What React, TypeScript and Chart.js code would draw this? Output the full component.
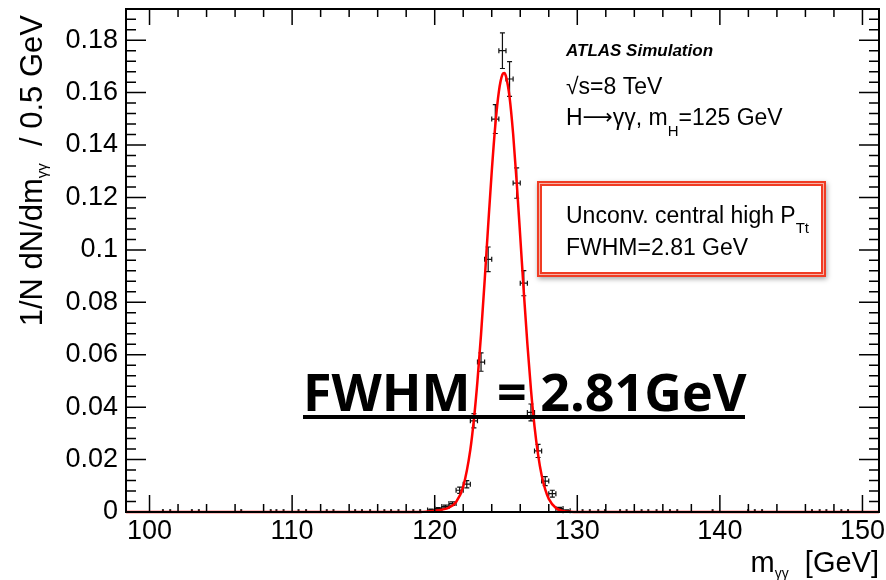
import React, { useEffect, useRef } from "react";
import { Chart, registerables } from "chart.js";

Chart.register(...registerables);

// ---------- data ----------
const xMin = 98.35;
const xMax = 151.16;
const yMin = 0;
const yMax = 0.1919;

const xTickValues = [100, 110, 120, 130, 140, 150];
const xTickLabels = ["100", "110", "120", "130", "140", "150"];
const yTickValues = [0, 0.02, 0.04, 0.06, 0.08, 0.1, 0.12, 0.14, 0.16, 0.18];
const yTickLabels = ["0", "0.02", "0.04", "0.06", "0.08", "0.1", "0.12", "0.14", "0.16", "0.18"];
const xMinorStep = 2;
const yMinorStep = 0.004;

// simulated histogram (bin centre, normalised content, stat. error)
const binHalfWidth = 0.25;
const simMass = [119.75, 120.25, 120.75, 121.25, 121.75, 122.25, 122.75, 123.25, 123.75, 124.25, 124.75, 125.25, 125.75, 126.25, 126.75, 127.25, 127.75, 128.25, 128.75, 129.25];
const simValue = [0.0008, 0.0013, 0.0021, 0.0032, 0.0083, 0.0106, 0.0348, 0.0572, 0.0964, 0.1499, 0.176, 0.1652, 0.1255, 0.0873, 0.038, 0.0233, 0.0118, 0.007, 0.0013, 0.0005];
const simError = [0.0003, 0.0004, 0.0005, 0.0007, 0.0012, 0.0014, 0.0027, 0.0035, 0.0047, 0.0055, 0.0068, 0.0066, 0.0058, 0.0048, 0.0032, 0.0025, 0.0017, 0.0013, 0.0005, 0.0003];

// isolated near-empty bins in the tails
const tailMass = [100.94, 101.45, 102.97, 103.46, 106.43, 108.5, 108.9, 109.4, 110.45, 110.98, 112.43, 112.9, 114.42, 114.9, 115.47, 116.47, 116.94, 117.46, 118.5, 118.98, 130.37, 130.88, 131.47, 131.94, 133.0, 133.46, 134.51, 134.98, 135.56, 136.5, 137.01, 139.49, 141.98, 142.45, 142.96, 146.46, 147.0, 147.47, 148.52, 148.99];
const tailValue = [0.0007, 0.0007, 0.0007, 0.0007, 0.0007, 0.0007, 0.0007, 0.0007, 0.0007, 0.0007, 0.0007, 0.0007, 0.0007, 0.0007, 0.0007, 0.0007, 0.0007, 0.0007, 0.0007, 0.0007, 0.0007, 0.0007, 0.0007, 0.0007, 0.0007, 0.0007, 0.0007, 0.0007, 0.0007, 0.0007, 0.0007, 0.0007, 0.0007, 0.0007, 0.0007, 0.0007, 0.0007, 0.0007, 0.0007, 0.0007];

// fitted line shape
const fitMass = [98.35, 119.0, 119.5, 120.0, 120.5, 121.0, 121.5, 122.0, 122.5, 122.75, 123.0, 123.25, 123.5, 123.75, 124.0, 124.25, 124.5, 124.75, 124.88, 125.0, 125.25, 125.5, 125.75, 126.0, 126.25, 126.5, 126.75, 127.0, 127.25, 127.5, 127.75, 128.0, 128.5, 129.0, 129.5, 130.0, 151.16];
const fitValue = [0, 0, 0.0002, 0.0005, 0.0009, 0.0017, 0.0038, 0.0097, 0.0238, 0.0353, 0.05, 0.0678, 0.088, 0.1093, 0.1298, 0.1475, 0.1604, 0.1669, 0.1675, 0.1662, 0.1583, 0.1443, 0.1258, 0.105, 0.0838, 0.0641, 0.0468, 0.0327, 0.0219, 0.014, 0.0086, 0.005, 0.0015, 0.0004, 0.0001, 0, 0];

const FONT = '"Liberation Sans", Arial, Helvetica, sans-serif';
const BIG_FONT = '"Open Sans", "Noto Sans", sans-serif';

type Seg = { t: string; font: string; dy?: number };

function segWidth(ctx: CanvasRenderingContext2D, segs: Seg[]) {
  let w = 0;
  for (const s of segs) {
    ctx.font = s.font;
    w += ctx.measureText(s.t).width;
  }
  return w;
}

function drawSegs(ctx: CanvasRenderingContext2D, x: number, y: number, segs: Seg[], align: "left" | "right" = "left") {
  let cx = align === "right" ? x - segWidth(ctx, segs) : x;
  ctx.textAlign = "left";
  ctx.textBaseline = "alphabetic";
  for (const s of segs) {
    ctx.font = s.font;
    ctx.fillText(s.t, cx, y + (s.dy || 0));
    cx += ctx.measureText(s.t).width;
  }
}

const errorBarPlugin = {
  id: "errorBars",
  beforeDatasetsDraw(chart: any) {
    const { ctx, scales } = chart;
    const xs = scales.x;
    const ys = scales.y;
    ctx.save();
    ctx.strokeStyle = "#111";
    ctx.lineWidth = 1.2;
    const cap = 2.5;
    for (let i = 0; i < simMass.length; i++) {
      const px = xs.getPixelForValue(simMass[i]);
      const py = ys.getPixelForValue(simValue[i]);
      const xl = xs.getPixelForValue(simMass[i] - binHalfWidth);
      const xr = xs.getPixelForValue(simMass[i] + binHalfWidth);
      const yt = ys.getPixelForValue(simValue[i] + simError[i]);
      const yb = ys.getPixelForValue(Math.max(0, simValue[i] - simError[i]));
      ctx.beginPath();
      ctx.moveTo(xl, py);
      ctx.lineTo(xr, py);
      ctx.moveTo(xl, py - cap);
      ctx.lineTo(xl, py + cap);
      ctx.moveTo(xr, py - cap);
      ctx.lineTo(xr, py + cap);
      ctx.moveTo(px, yt);
      ctx.lineTo(px, yb);
      ctx.moveTo(px - cap, yt);
      ctx.lineTo(px + cap, yt);
      ctx.moveTo(px - cap, yb);
      ctx.lineTo(px + cap, yb);
      ctx.stroke();
    }
    ctx.fillStyle = "#111";
    for (let i = 0; i < tailMass.length; i++) {
      const px = xs.getPixelForValue(tailMass[i]);
      const py = ys.getPixelForValue(tailValue[i]);
      ctx.fillRect(px - 1, py - 1, 2, 2);
    }
    ctx.restore();
  },
};

const framePlugin = {
  id: "rootFrame",
  afterDatasetsDraw(chart: any) {
    const { ctx, chartArea: a, scales } = chart;
    const xs = scales.x;
    const ys = scales.y;
    ctx.save();
    ctx.strokeStyle = "#000";
    ctx.lineWidth = 1.5;
    ctx.beginPath();
    for (let v = 100; v <= xMax; v += xMinorStep) {
      const px = xs.getPixelForValue(v);
      const major = xTickValues.includes(v);
      const lb = major ? 17 : 8;
      const lt = major ? 16 : 8;
      ctx.moveTo(px, a.bottom);
      ctx.lineTo(px, a.bottom - lb);
      ctx.moveTo(px, a.top);
      ctx.lineTo(px, a.top + lt);
    }
    for (let k = 0; k * yMinorStep <= yMax; k++) {
      const v = k * yMinorStep;
      const py = ys.getPixelForValue(v);
      const major = k % 5 === 0;
      const l = major ? 20 : 10;
      ctx.moveTo(a.left, py);
      ctx.lineTo(a.left + l, py);
      ctx.moveTo(a.right, py);
      ctx.lineTo(a.right - l, py);
    }
    ctx.stroke();
    ctx.lineWidth = 2;
    ctx.strokeRect(a.left, a.top, a.right - a.left, a.bottom - a.top);
    ctx.restore();
  },
  afterDraw(chart: any) {
    const { ctx, chartArea: a } = chart;
    ctx.save();
    ctx.fillStyle = "#000";

    // y axis title
    ctx.save();
    ctx.translate(42, 15);
    ctx.rotate(-Math.PI / 2);
    drawSegs(
      ctx,
      0,
      0,
      [
        { t: "1/N dN/dm", font: `31px ${FONT}` },
        { t: "\u03b3\u03b3", font: `15px ${FONT}`, dy: 5 },
        { t: "  / 0.5 GeV", font: `31px ${FONT}` },
      ],
      "right"
    );
    ctx.restore();

    // x axis title
    drawSegs(
      ctx,
      a.right,
      572,
      [
        { t: "m", font: `29px ${FONT}` },
        { t: "\u03b3\u03b3", font: `14px ${FONT}`, dy: 6 },
        { t: "  [GeV]", font: `29px ${FONT}` },
      ],
      "right"
    );

    // ATLAS labels
    drawSegs(ctx, 566, 56, [{ t: "ATLAS Simulation", font: `italic bold 17px ${FONT}` }]);
    drawSegs(ctx, 566, 94, [{ t: "\u221as=8 TeV", font: `23px ${FONT}` }]);
    drawSegs(ctx, 566, 125, [
      { t: "H", font: `23px ${FONT}` },
      { t: "\u27f6", font: `21px "DejaVu Sans", ${FONT}`, dy: -1 },
      { t: "\u03b3\u03b3, m", font: `23px ${FONT}` },
      { t: "H", font: `15px ${FONT}`, dy: 11 },
      { t: "=125 GeV", font: `23px ${FONT}` },
    ]);

    // red box
    const bx = 537, by = 181, bw = 289, bh = 96;
    ctx.save();
    ctx.shadowColor = "rgba(0,0,0,0.35)";
    ctx.shadowBlur = 5;
    ctx.shadowOffsetX = 1;
    ctx.shadowOffsetY = 2;
    ctx.fillStyle = "#fff";
    ctx.fillRect(bx, by, bw, bh);
    ctx.restore();
    ctx.strokeStyle = "#f03c24";
    ctx.lineWidth = 2;
    ctx.strokeRect(bx + 1, by + 1, bw - 2, bh - 2);
    ctx.strokeStyle = "#f7b3a6";
    ctx.lineWidth = 1;
    ctx.strokeRect(bx + 2.5, by + 2.5, bw - 5, bh - 5);
    ctx.strokeStyle = "#f03c24";
    ctx.lineWidth = 2;
    ctx.strokeRect(bx + 4, by + 4, bw - 8, bh - 8);

    ctx.fillStyle = "#000";
    drawSegs(ctx, 566, 223, [
      { t: "Unconv. central high P", font: `23px ${FONT}` },
      { t: "Tt", font: `15px ${FONT}`, dy: 10 },
    ]);
    drawSegs(ctx, 566, 255, [{ t: "FWHM=2.81 GeV", font: `23px ${FONT}` }]);

    // big FWHM statement
    drawSegs(ctx, 303, 411, [{ t: "FWHM", font: `bold 52px ${BIG_FONT}` }]);
    drawSegs(ctx, 497, 411, [{ t: "= 2.81GeV", font: `bold 52px ${BIG_FONT}` }]);
    ctx.fillRect(303, 415, 442, 4);
    ctx.restore();
  },
};

export default function App() {
  const ref = useRef<HTMLCanvasElement | null>(null);
  useEffect(() => {
    document.body.style.margin = "0";
    const canvas = ref.current;
    if (!canvas) return;
    const chart = new Chart(canvas, {
      type: "scatter",
      data: {
        datasets: [
          {
            label: "fit",
            data: fitMass.map((x, i) => ({ x, y: fitValue[i] })),
            showLine: true,
            borderColor: "#ff0000",
            borderWidth: 2.5,
            pointRadius: 0,
            cubicInterpolationMode: "monotone",
            clip: 4,
          } as any,
          {
            label: "simulation",
            data: simMass.map((x, i) => ({ x, y: simValue[i] })),
            showLine: false,
            pointRadius: 0,
          },
        ],
      },
      options: {
        animation: false,
        responsive: false,
        devicePixelRatio: 1,
        layout: { padding: { top: 9, right: 7, left: 0, bottom: 0 } },
        plugins: { legend: { display: false }, tooltip: { enabled: false } },
        events: [],
        scales: {
          x: {
            type: "linear",
            min: xMin,
            max: xMax,
            grid: { display: false, drawTicks: false },
            border: { display: false },
            afterBuildTicks: (scale: any) => {
              scale.ticks = xTickValues.map((v) => ({ value: v }));
            },
            afterFit: (scale: any) => {
              scale.height = 68;
              scale.paddingLeft = 0;
              scale.paddingRight = 0;
              scale.paddingTop = 0;
              scale.paddingBottom = 0;
            },
            ticks: {
              padding: 3,
              color: "#000",
              font: { family: FONT, size: 27 },
              maxRotation: 0,
              autoSkip: false,
              callback: (_v: any, i: number) => xTickLabels[i],
            },
          },
          y: {
            type: "linear",
            min: yMin,
            max: yMax,
            grid: { display: false, drawTicks: false },
            border: { display: false },
            afterBuildTicks: (scale: any) => {
              scale.ticks = yTickValues.map((v) => ({ value: v }));
            },
            afterFit: (scale: any) => {
              scale.width = 126;
              scale.paddingLeft = 0;
              scale.paddingRight = 0;
              scale.paddingTop = 0;
              scale.paddingBottom = 0;
            },
            ticks: {
              padding: 8,
              color: "#000",
              font: { family: FONT, size: 27 },
              autoSkip: false,
              callback: (_v: any, i: number) => yTickLabels[i],
            },
          },
        },
      },
      plugins: [errorBarPlugin, framePlugin],
    });
    return () => chart.destroy();
  }, []);
  return (
    <div style={{ width: 886, height: 580, background: "#fff" }}>
      <canvas ref={ref} width={886} height={580} />
    </div>
  );
}
